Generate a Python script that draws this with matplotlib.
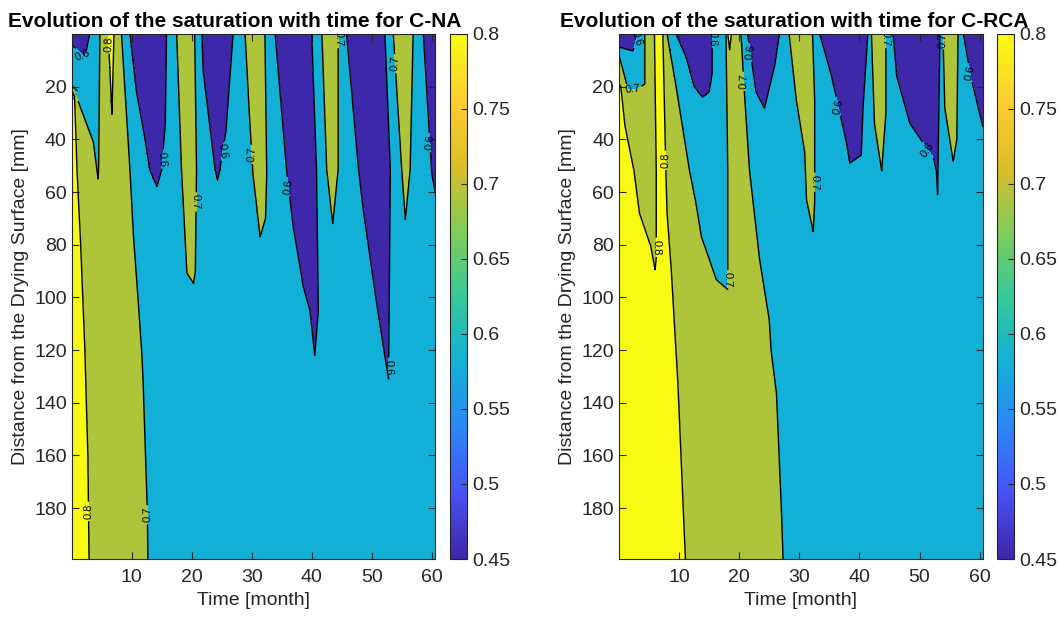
import numpy as np
import matplotlib
matplotlib.use("Agg")
import matplotlib.pyplot as plt
from matplotlib.colors import LinearSegmentedColormap, Normalize
from matplotlib.cm import ScalarMappable

plt.rcParams["font.family"] = ["Liberation Sans", "DejaVu Sans"]

# contour levels drawn and colorbar ticks
LEVELS = [0.6, 0.7, 0.8]
CBAR_TICKS = [0.45, 0.5, 0.55, 0.6, 0.65, 0.7, 0.75, 0.8]
X_TICKS = [10, 20, 30, 40, 50, 60]
Y_TICKS = [20, 40, 60, 80, 100, 120, 140, 160, 180]

# ---- C-NA: position (time, month) of the main fronts against depth (mm)
NA_FRONT08_DEPTH = [0, 17, 18, 25, 52, 80, 120, 160, 199]
NA_FRONT08_TIME = [-5, -5, 0.0, 0.5, 0.9, 1.5, 2.2, 2.7, 2.9]
NA_FRONT07_DEPTH = [0, 51.5, 77, 102, 122, 132, 181, 199]
NA_FRONT07_TIME = [8.3, 9.7, 10.3, 11.1, 11.7, 11.9, 12.6, 12.7]

# surface events: (kind, level, left edge depths, left edge times, right edge depths, right edge times)
NA_EVENTS = [
    ("dry", 0.7, [0, 19, 41, 55], [-2, 0, 3.6, 4.4], [0, 50, 55], [4.7, 4.5, 4.4]),
    ("dry", 0.6, [0, 4, 9], [-2, 0, 2.2], [0, 9], [3.0, 2.2]),
    ("wet", 0.8, [0, 30.6], [6.1, 6.7], [0, 30.6], [7.05, 6.7]),
    ("dry", 0.6, [0, 22, 41, 51.5, 58], [9.7, 10.8, 12.3, 13.0, 14.2], [0, 34, 51.5, 58], [15.8, 15.6, 15.0, 14.2]),
    ("wet", 0.7, [0, 51.5, 90.7, 94.7], [17.5, 18.3, 19.2, 20.3], [0, 51.5, 90, 94.7], [20.5, 20.8, 20.6, 20.3]),
    ("dry", 0.6, [0, 14, 51.5, 55.5], [21.7, 21.9, 23.9, 24.3], [0, 37, 51.5, 55.5], [26.9, 25.7, 24.7, 24.3]),
    ("wet", 0.7, [0, 30, 53, 77], [28.9, 29.6, 30.2, 31.4], [0, 53, 70, 77], [32.2, 32.5, 32.3, 31.4]),
    ("dry", 0.6, [0, 51.5, 73, 96, 105, 122], [33.9, 35.8, 36.9, 38.6, 39.7, 40.5], [0, 51.5, 105, 122], [40.0, 40.8, 41.1, 40.5]),
    ("wet", 0.7, [0, 51.5, 72], [41.7, 42.5, 43.5], [0, 51.5, 72], [44.4, 44.4, 43.5]),
    ("dry", 0.6, [0, 51.5, 67, 102, 122.5, 131], [45.8, 47.8, 48.6, 50.8, 52.2, 52.8], [0, 51.5, 131], [52.2, 53.1, 52.8]),
    ("wet", 0.7, [0, 51.5, 70.5], [53.6, 55.0, 55.6], [0, 51.5, 70.5], [56.9, 56.4, 55.6]),
    ("dry", 0.6, [0, 53, 65], [58.6, 60.0, 61.0], [0, 65], [63, 61.0]),
]

# ---- C-RCA
RCA_FRONT08_DEPTH = [0, 52, 68, 89.5, 121, 132.5, 180.7, 199]
RCA_FRONT08_TIME = [7.3, 7.8, 8.0, 8.7, 9.5, 9.8, 10.7, 11.05]
RCA_FRONT07_DEPTH = [0, 20, 51.5, 85.7, 108.5, 120, 136.4, 179.4, 199]
RCA_FRONT07_TIME = [20.3, 20.8, 21.7, 23.4, 25.0, 25.3, 26.2, 27.0, 27.3]

RCA_EVENTS = [
    ("dry", 0.8, [0, 15, 20, 35, 52, 68, 80.7, 89.5], [-2, -1, 0.3, 1.0, 2.5, 3.4, 5.3, 6.0], [0, 52, 85, 89.5], [5.9, 6.2, 6.2, 6.0]),
    ("dry", 0.7, [0, 8, 21], [-2, 0, 1.5], [0, 19, 21], [4.3, 4.3, 3.0]),
    ("dry", 0.6, [0, 5, 6.5], [-2, 0, 2.3], [0, 6.5], [3.2, 2.3]),
    ("dry", 0.7, [0, 20, 51.5, 64.2, 76.9, 93.3, 97], [8.0, 9.5, 11.7, 12.8, 13.7, 16.2, 18.1], [0, 51.5, 97], [17.8, 18.1, 18.1]),
    ("dry", 0.6, [0, 9, 20, 24], [9.5, 11.2, 12.5, 13.9], [0, 15, 22, 24], [15.5, 15.5, 15.0, 13.9]),
    ("wet", 0.8, [0, 6], [18.1, 18.4], [0, 6], [18.7, 18.4]),
    ("dry", 0.6, [0, 22, 28.2], [21.4, 22.8, 24.2], [0, 12, 28.2], [26.7, 25.9, 24.2]),
    ("wet", 0.7, [0, 25, 45, 63, 75], [28.3, 29.5, 30.9, 31.2, 32.3], [0, 25, 64, 75], [32.2, 32.55, 32.55, 32.3]),
    ("dry", 0.6, [0, 15.5, 40.8, 49], [33.4, 35.3, 37.8, 38.4], [0, 28, 46, 49], [41.4, 40.6, 40.3, 38.4]),
    ("wet", 0.7, [0, 34, 52], [42.0, 42.5, 43.7], [0, 30, 52], [44.4, 44.4, 43.7]),
    ("dry", 0.6, [0, 16, 34, 47, 52, 61], [45.6, 46.2, 48.4, 52.3, 52.8, 53.0], [0, 61], [53.4, 53.0]),
    ("wet", 0.7, [0, 28, 48.4], [53.9, 54.2, 55.6], [0, 40, 48.4], [56.4, 56.2, 55.6]),
    ("dry", 0.6, [0, 16, 35], [57.3, 58.5, 60.5], [0, 35], [63, 60.6]),
]

BAND_COLORS = ["#3e27a8", "#12b0d6", "#aec43a", "#f8fa14"]
PARULA = ["#3e26a8", "#4752f4", "#2d87f7", "#12b1d6", "#37c899",
          "#81cc59", "#dcbd29", "#fcce2e", "#f9fb14"]


def saturation_field(t, d, d08, t08, d07, t07, events):
    a = np.interp(d, d08, t08)[:, None]
    b = np.interp(d, d07, t07)[:, None]
    T = t[None, :]
    z = np.where(T < a, 0.8 + 0.005 * (a - T),
                 np.where(T < b, 0.8 - 0.1 * (T - a) / (b - a),
                          np.maximum(0.7 - 0.01 * (T - b), 0.62)))
    for kind, level, ld, lt, rd, rt in events:
        left = np.interp(d, ld, lt)[:, None]
        right = np.interp(d, rd, rt)[:, None]
        tip = max(ld[-1], rd[-1])
        m = np.minimum(np.minimum(T - left, right - T), 0.15 * (tip - d)[:, None])
        if kind == "dry":
            z = np.minimum(z, np.maximum(level - 0.3 * m, level - 0.05))
        else:
            z = np.maximum(z, np.minimum(level + 0.3 * m, level + 0.05))
    return z


t = np.linspace(0, 61, 1221)
d = np.linspace(0, 200, 801)

fig = plt.figure(figsize=(10.59, 6.17), dpi=100)
cmap = LinearSegmentedColormap.from_list("parula", PARULA)
norm = Normalize(vmin=0.45, vmax=0.8)

panels = [
    ("Evolution of the saturation with time for C-NA", NA_FRONT08_DEPTH, NA_FRONT08_TIME,
     NA_FRONT07_DEPTH, NA_FRONT07_TIME, NA_EVENTS, [0.0677, 0.094, 0.3431, 0.851], 0.4249, 0.448),
    ("Evolution of the saturation with time for C-RCA", RCA_FRONT08_DEPTH, RCA_FRONT08_TIME,
     RCA_FRONT07_DEPTH, RCA_FRONT07_TIME, RCA_EVENTS, [0.5845, 0.094, 0.3437, 0.851], 0.9417, 0.482),
]

for title, d08, t08, d07, t07, events, pos, cbar_x, title_x in panels:
    ax = fig.add_axes(pos)
    z = saturation_field(t, d, d08, t08, d07, t07, events)
    ax.contourf(t, d, z, levels=[0.0] + LEVELS + [1.2], colors=BAND_COLORS)
    cs = ax.contour(t, d, z, levels=LEVELS, colors="k", linewidths=1.0)
    ax.clabel(cs, fmt="%.1f", fontsize=8, inline=True, inline_spacing=2)

    ax.set_xlim(0, 60.55)
    ax.set_ylim(199.3, 0)
    ax.set_xticks(X_TICKS)
    ax.set_yticks(Y_TICKS)
    ax.tick_params(direction="in", top=True, right=True, length=5, labelsize=14,
                   color="#262626", labelcolor="#262626")
    ax.tick_params(axis="x", pad=7.5)
    for sp in ax.spines.values():
        sp.set_color("#262626")
    ax.set_xlabel("Time [month]", fontsize=14, color="#262626", labelpad=4)
    ax.set_ylabel("Distance from the Drying Surface [mm]", fontsize=14, color="#262626", labelpad=4)
    ax.set_title(title, fontsize=15, fontweight="bold", x=title_x, pad=5)

    cax = fig.add_axes([cbar_x, 0.094, 0.016, 0.851])
    cb = fig.colorbar(ScalarMappable(norm=norm, cmap=cmap), cax=cax, ticks=CBAR_TICKS)
    cb.ax.set_yticklabels([f"{v:g}" for v in CBAR_TICKS])
    cb.ax.tick_params(direction="in", length=4, labelsize=14, color="#262626", labelcolor="#262626")
    cb.outline.set_edgecolor("#262626")
    cb.outline.set_linewidth(0.8)

fig.savefig("out.png", dpi=100)
